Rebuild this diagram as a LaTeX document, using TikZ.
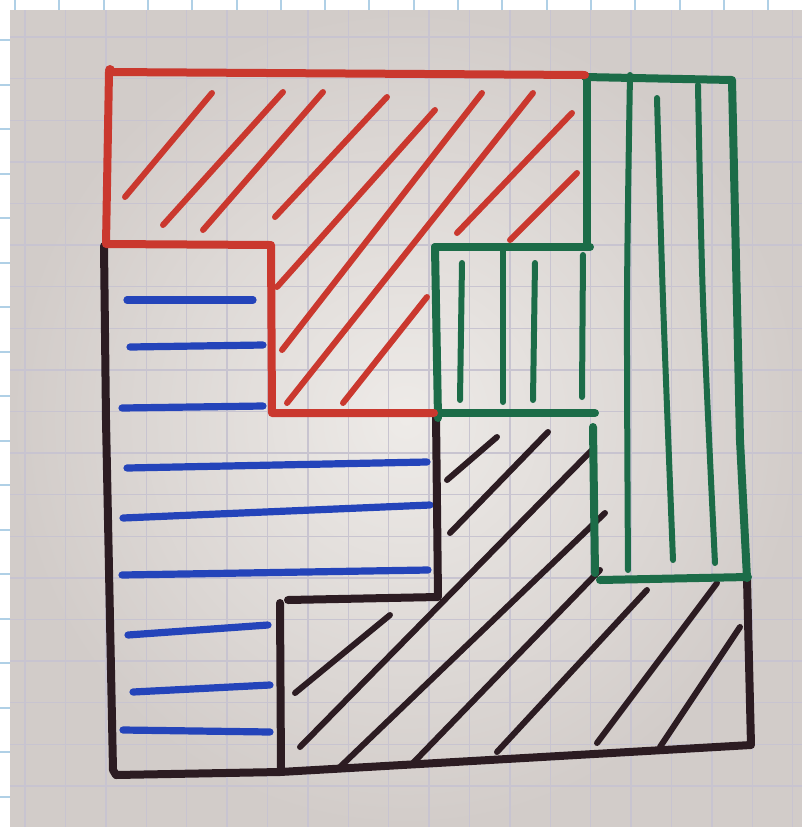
\documentclass[tikz,border=0pt]{standalone}
\usepackage{tikz}
\definecolor{paper}{RGB}{238,235,232}
\definecolor{paperdark}{RGB}{210,204,201}
\definecolor{pgrid}{RGB}{200,196,208}
\definecolor{sgrid}{RGB}{176,208,230}
\definecolor{pred}{RGB}{202,56,46}
\definecolor{pgreen}{RGB}{28,108,72}
\definecolor{pblue}{RGB}{36,68,186}
\definecolor{pblack}{RGB}{44,28,34}
\tikzset{
  outline/.style={line width=4pt, line cap=round, line join=round},
  hatch/.style={line width=3pt, line cap=round},
  bluehatch/.style={pblue, line width=3.6pt, line cap=round},
}
\begin{document}
\begin{tikzpicture}[x=0.5pt,y=-0.5pt]
\useasboundingbox (0,0) rectangle (802,827);
% outer white grid
\fill[white] (0,0) rectangle (802,827);
\foreach \i in {0,...,17} \draw[sgrid, line width=1pt] ({15+44.3*\i},0) -- ({15+44.3*\i},827);
\foreach \i in {0,...,17} \draw[sgrid, line width=1pt] (0,{40+44.5*\i}) -- (802,{40+44.5*\i});
% photo of the paper
\shade[inner color=paper, outer color=paperdark] (10,10) rectangle (802,827);
\foreach \i in {0,...,19} \draw[pgrid, line width=0.7pt] ({25+40.4*\i},10) -- ({25+40.4*\i},827);
\foreach \i in {0,...,18} \draw[pgrid, line width=0.7pt] (10,{37+41.6*\i}) -- (802,{37+41.6*\i});

% red hatching
\begin{scope}[pred, hatch]
\draw (125,197) -- (212,93);
\draw (163,225) -- (283,92);
\draw (203,230) -- (323,92);
\draw (275,217) -- (387,97);
\draw (277,287) -- (435,110);
\draw (282,350) -- (482,93);
\draw (287,403) -- (533,93);
\draw (343,403) -- (427,297);
\draw (457,233) -- (572,113);
\draw (510,240) -- (577,173);
\end{scope}

% blue hatching
\begin{scope}[bluehatch]
\draw (127,300) -- (253,300);
\draw (130,347) -- (263,345);
\draw (122,408) -- (263,406);
\draw (127,468) -- (427,462);
\draw (123,518) -- (430,505);
\draw (122,575) -- (428,570);
\draw (128,635) -- (268,625);
\draw (133,692) -- (270,685);
\draw (123,730) -- (270,732);
\end{scope}

% green hatching
\begin{scope}[pgreen, hatch]
\draw (462,263) -- (460,400);
\draw (503,250) -- (503,402);
\draw (535,263) -- (533,400);
\draw (583,255) -- (582,397);
\draw plot[smooth] coordinates {(630,75) (627,300) (628,570)};
\draw plot[smooth] coordinates {(657,98) (663,300) (673,560)};
\draw plot[smooth] coordinates {(698,85) (703,300) (715,563)};
\end{scope}

% black hatching
\begin{scope}[pblack, hatch]
\draw (447,480) -- (497,437);
\draw (450,533) -- (548,432);
\draw (300,747) -- (592,450);
\draw (340,767) -- (605,513);
\draw (413,763) -- (600,570);
\draw (497,752) -- (647,590);
\draw (597,743) -- (717,583);
\draw (660,747) -- (740,627);
\draw (295,693) -- (390,615);
\end{scope}

% black outlines
\begin{scope}[pblack, outline]
\draw (104,246) -- (106,420) -- (113,770) -- (116,775) -- (280,772) -- (751,745) -- (747,578);
\draw (436,414) -- (438,597) -- (288,600);
\draw (280,603) -- (281,770);
\end{scope}

% green outlines
\begin{scope}[pgreen, outline]
\draw (585,77) -- (732,80) -- (740,440) -- (747,578);
\draw (600,580) -- (748,577);
\draw (587,77) -- (587,247);
\draw (435,247) -- (590,247);
\draw (435,247) -- (438,418);
\draw (438,413) -- (595,413);
\draw (593,427) -- (595,573);
\end{scope}

% red outline
\begin{scope}[pred, outline]
\draw (585,75) -- (109,72) -- (106,244) -- (271,245) -- (272,413) -- (434,413);
\fill (110,70) circle (5);
\end{scope}
\end{tikzpicture}
\end{document}
